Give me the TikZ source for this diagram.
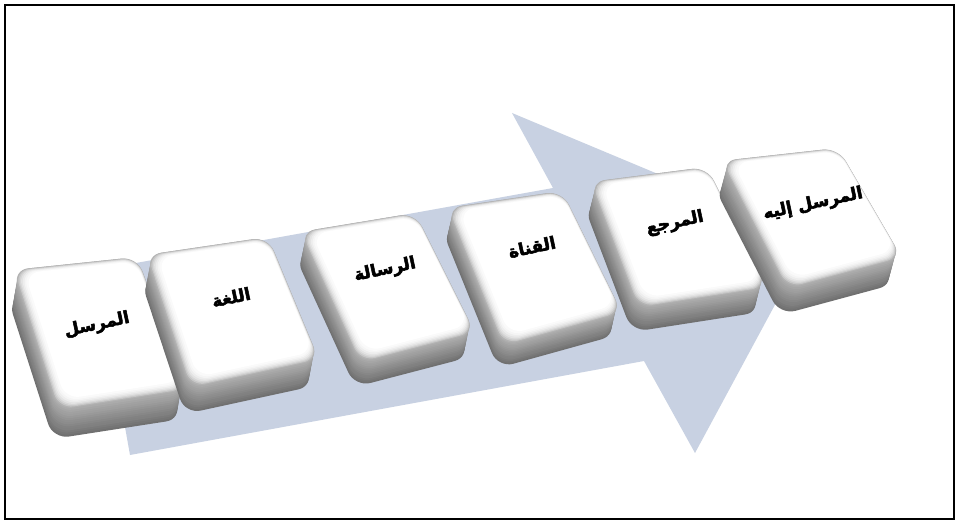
\documentclass[tikz,border=0pt]{standalone}
\usepackage{fontspec}
\newfontfamily\arabicfont[Script=Arabic, BoldFeatures={FakeBold=3}]{DejaVu Sans}
\TeXXeTstate=1
\usetikzlibrary{calc}
\definecolor{arrowblue}{RGB}{200,209,226}
\tikzset{
  keylabel/.style={font=\arabicfont\bfseries\fontsize{17}{20}\selectfont, rotate=12, inner sep=0pt, text=black},
  frameline/.style={draw=black, line width=2pt},
  arrowshape/.style={fill=arrowblue, draw=none}
}
\newcommand\keycap[7]{%
  \coordinate (#7c) at ($(#1)!0.5!(#3)$);
  \foreach \ii in {14,...,0}{
    \pgfmathsetmacro\tv{\ii/14}
    \pgfmathtruncatemacro\cv{32+24*\tv}
    \fill[black!\cv, rounded corners=16pt]
      ($(#1)+(\tv*#5,\tv*#6)$) -- ($(#2)+(\tv*#5,\tv*#6)$) --
      ($(#3)+(\tv*#5,\tv*#6)$) -- ($(#4)+(\tv*#5,\tv*#6)$) -- cycle;
  }
  \foreach \ff/\cv in {0/30,0.012/22,0.024/16,0.036/11,0.05/7,0.065/4,0.08/2,0.1/0}{
    \fill[black!\cv, rounded corners=15pt]
      ($(#1)!\ff!(#7c)+(\ff*30,-\ff*30)$) -- ($(#2)!\ff!(#7c)+(\ff*30,-\ff*30)$) --
      ($(#3)!\ff!(#7c)+(\ff*30,-\ff*30)$) -- ($(#4)!\ff!(#7c)+(\ff*30,-\ff*30)$) -- cycle;
  }
}
\begin{document}
\begin{tikzpicture}[x=1pt,y=-1pt]
\useasboundingbox (0,0) rectangle (956,521);
\fill[white] (0,0) rectangle (956,521);
% arrow
\fill[arrowshape] (130,455) -- (644,361) -- (695,453) -- (811,238) -- (512,113) -- (553,188) -- (97,270) -- cycle;
% keys
\keycap{13,270}{137,257}{187,390}{58,410}{-5}{29}{k1}
\keycap{146,255}{268,237}{319,360}{190,388}{-5}{26}{k2}
\keycap{300,232}{415,213}{475,333}{360,363}{-5}{24}{k3}
\keycap{447,208}{562,191}{622,313}{503,346}{-5}{22}{k4}
\keycap{590,182}{707,167}{767,288}{638,308}{-6}{24}{k5}
\keycap{721,161}{838,148}{902,258}{787,289}{-7}{26}{k6}
% labels
\node[keylabel] (t1) at (97,325) {\beginR المرسل\endR};
\node[keylabel] (t2) at (231,297) {\beginR اللغة\endR};
\node[keylabel] (t3) at (385,270) {\beginR الرسالة\endR};
\node[keylabel] (t4) at (532,247) {\beginR القناة\endR};
\node[keylabel] (t5) at (675,223) {\beginR المرجع\endR};
\node[keylabel] (t6) at (813,204) {\beginR المرسل إليه\endR};
% frame
\draw[frameline] (5,5) rectangle (954,519);
\end{tikzpicture}
\end{document}
